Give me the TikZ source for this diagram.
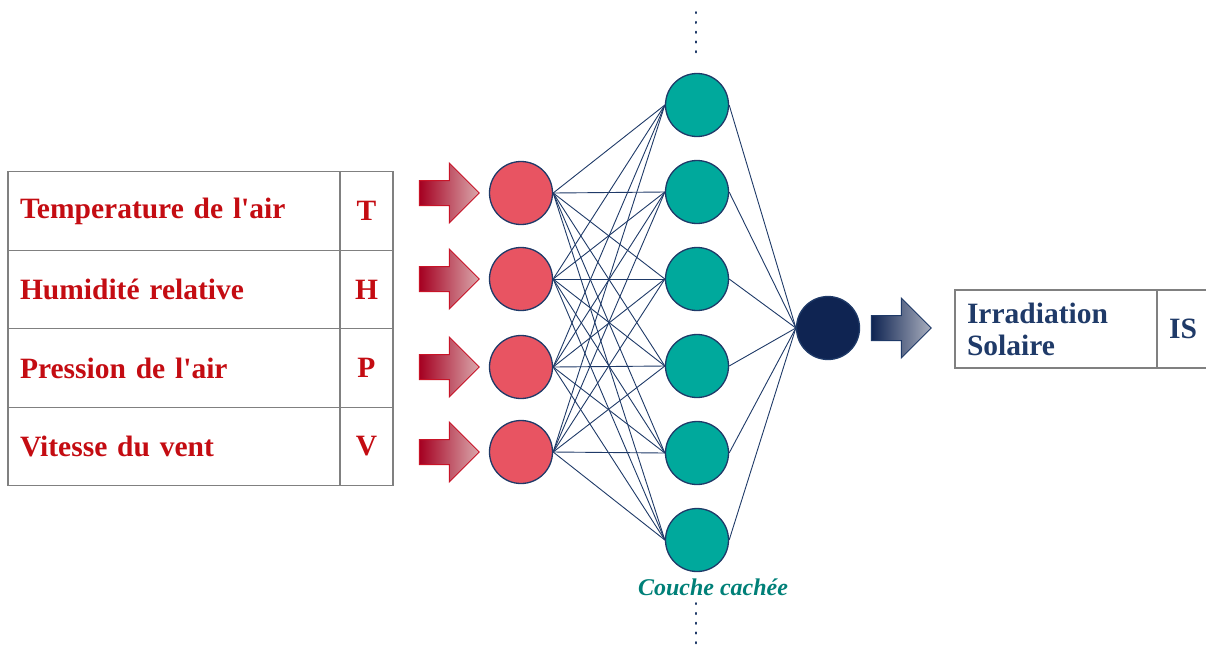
\documentclass[tikz,border=0pt]{standalone}
\usepackage{fontspec}
\setmainfont{Liberation Serif}
\usetikzlibrary{shapes.arrows}

\definecolor{rougetxt}{RGB}{196,12,18}
\definecolor{rougefl}{RGB}{200,20,40}
\definecolor{rougefonce}{RGB}{165,0,33}
\definecolor{rose}{RGB}{218,168,172}
\definecolor{entreefill}{RGB}{232,84,98}
\definecolor{cachefill}{RGB}{0,169,156}
\definecolor{cachetxt}{RGB}{0,128,120}
\definecolor{sortiefill}{RGB}{15,36,82}
\definecolor{marine}{RGB}{31,58,104}
\definecolor{grisclair}{RGB}{170,175,190}
\definecolor{grisbord}{RGB}{128,128,128}

\begin{document}
\begin{tikzpicture}[x=1pt,y=-1pt,
    cell/.style={draw=grisbord,line width=1.2pt,minimum height=78.5pt,inner xsep=12pt,
                 font=\fontsize{29.5}{32}\selectfont\bfseries},
    neurone/.style={circle,draw=marine,line width=1.3pt,minimum size=63pt,inner sep=0pt},
    fleche/.style={single arrow,draw,line width=1pt,minimum height=60pt,minimum width=59pt,
                   single arrow head extend=17.5pt,inner xsep=0pt,inner ysep=12pt},
    lien/.style={draw=marine,line width=0.9pt},
    pointille/.style={draw=marine,line width=2pt,line cap=round,dash pattern=on 1.2pt off 8.6pt}]

    \clip (0,0) rectangle (1206,649);

    \node[cell,text=rougetxt,text width=308pt,align=left] (l1) at (174,211) {Temperature de l\textquotesingle air};
    \node[cell,text=rougetxt,text width=308pt,align=left] (l2) at (174,289.5) {Humidité relative};
    \node[cell,text=rougetxt,text width=308pt,align=left] (l3) at (174,368) {Pression de l\textquotesingle air};
    \node[cell,text=rougetxt,text width=308pt,align=left] (l4) at (174,446.5) {Vitesse du vent};

    \node[cell,text=rougetxt,minimum width=53pt,inner xsep=0pt] (t) at (366.5,211) {T};
    \node[cell,text=rougetxt,minimum width=53pt,inner xsep=0pt] (h) at (366.5,289.5) {H};
    \node[cell,text=rougetxt,minimum width=53pt,inner xsep=0pt] (p) at (366.5,368) {P};
    \node[cell,text=rougetxt,minimum width=53pt,inner xsep=0pt] (v) at (366.5,446.5) {V};

    \node[fleche,draw=rougefl,left color=rougefonce,right color=rose] (f1) at (443,193) {};
    \node[fleche,draw=rougefl,left color=rougefonce,right color=rose] (f2) at (443,279) {};
    \node[fleche,draw=rougefl,left color=rougefonce,right color=rose] (f3) at (443,367) {};
    \node[fleche,draw=rougefl,left color=rougefonce,right color=rose] (f4) at (443,452) {};

    \node[neurone,fill=entreefill] (e1) at (521,193) {};
    \node[neurone,fill=entreefill] (e2) at (521,279) {};
    \node[neurone,fill=entreefill] (e3) at (521,367) {};
    \node[neurone,fill=entreefill] (e4) at (521,452) {};

    \node[neurone,fill=cachefill] (c1) at (697,105) {};
    \node[neurone,fill=cachefill] (c2) at (697,192) {};
    \node[neurone,fill=cachefill] (c3) at (697,279) {};
    \node[neurone,fill=cachefill] (c4) at (697,366) {};
    \node[neurone,fill=cachefill] (c5) at (697,453) {};
    \node[neurone,fill=cachefill] (c6) at (697,540) {};

    \node[neurone,fill=sortiefill] (s) at (828,328) {};

    \foreach \i in {1,...,4}
        \foreach \j in {1,...,6}
            \draw[lien] (e\i.east) -- (c\j.west);
    \foreach \j in {1,...,6}
        \draw[lien] (c\j.east) -- (s.west);

    \node[text=cachetxt,font=\fontsize{24}{28}\selectfont\bfseries\itshape] (couche) at (713,587) {Couche cachée};

    \coordinate (haut1) at (696,12);
    \coordinate (haut2) at (696,58);
    \coordinate (bas1) at (696,603);
    \coordinate (bas2) at (696,655);
    \draw[pointille] (haut1) -- (haut2);
    \draw[pointille] (bas1) -- (bas2);

    \node[fleche,draw=marine,left color=sortiefill,right color=grisclair] (fs) at (895,328) {};

    \node[cell,text=marine,minimum height=78pt,text width=178pt,align=left] (irr) at (1056,329) {Irradiation\\Solaire};
    \node[cell,text=marine,minimum height=78pt,minimum width=52pt,inner xsep=0pt] (is) at (1183,329) {IS};

\end{tikzpicture}
\end{document}
